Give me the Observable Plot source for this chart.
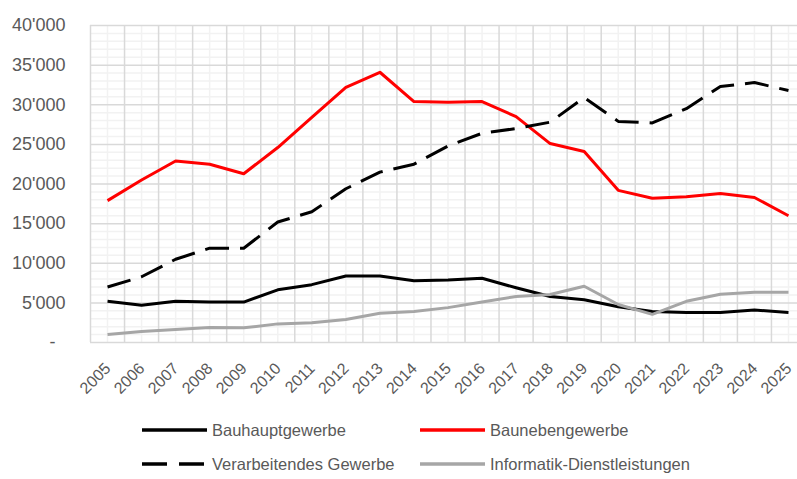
<!DOCTYPE html>
<html>
<head>
<meta charset="utf-8">
<script src="https://cdn.jsdelivr.net/npm/d3@7"></script>
<script src="https://cdn.jsdelivr.net/npm/@observablehq/plot@0.6"></script>
<style>
  html, body { margin: 0; padding: 0; background: #fff; }
  #wrap { position: relative; width: 797px; height: 479px; overflow: hidden; font-family: "Liberation Sans", Arial, sans-serif; }
  #chart svg { display: block; }
  .leg { position: absolute; display: flex; align-items: center; font-size: 16.5px; color: #595959; white-space: nowrap; }
  .leg svg { margin-right: 5px; }
</style>
</head>
<body>
<div id="wrap">
  <div id="chart"></div>
  <div id="legend"></div>
</div>
<script>
const years = [2005,2006,2007,2008,2009,2010,2011,2012,2013,2014,2015,2016,2017,2018,2019,2020,2021,2022,2023,2024,2025];
const bauhauptgewerbe = [5200,4700,5200,5100,5100,6650,7300,8400,8400,7800,7900,8100,6900,5800,5400,4500,3900,3800,3780,4100,3800];
const baunebengewerbe = [17900,20500,22900,22500,21300,24600,28400,32200,34100,30400,30300,30400,28500,25100,24100,19200,18200,18400,18800,18300,16000];
const verarbeitendesGewerbe = [7000,8300,10500,11900,11900,15200,16500,19400,21500,22500,24800,26400,27000,27800,30900,27900,27700,29500,32300,32800,31800];
const informatikDienstleistungen = [1000,1400,1650,1900,1850,2350,2500,2900,3700,3900,4400,5100,5800,6050,7100,4800,3550,5200,6100,6350,6350];
const yTicks = [0,5000,10000,15000,20000,25000,30000,35000,40000];

const seriesNames = ["Bauhauptgewerbe","Baunebengewerbe","Verarbeitendes Gewerbe","Informatik-Dienstleistungen"];
const seriesValues = [bauhauptgewerbe, baunebengewerbe, verarbeitendesGewerbe, informatikDienstleistungen];
const seriesStyle = [
  {stroke: "#000000", dash: null},
  {stroke: "#FF0000", dash: null},
  {stroke: "#000000", dash: "24,11"},
  {stroke: "#A6A6A6", dash: null}
];

const fmt = v => v === 0 ? "-\u00a0\u00a0" : d3.format(",")(v).replace(/,/g, "'");

const minorY = d3.range(0, 40001, 1000).filter(v => v % 5000 !== 0);
const bounds = d3.range(2004.5, 2026, 1);

const lineMarks = seriesNames.map((name, i) => {
  const data = years.map((y, j) => ({year: y, value: seriesValues[i][j]}));
  return Plot.line(data, {x: "year", y: "value", stroke: seriesStyle[i].stroke, strokeWidth: 3, strokeDasharray: seriesStyle[i].dash, strokeLinejoin: "round", strokeLinecap: "butt"});
});

const chart = Plot.plot({
  width: 797,
  height: 400,
  marginLeft: 90,
  marginRight: 0,
  marginTop: 25,
  marginBottom: 58,
  style: {fontFamily: "'Liberation Sans', Arial, sans-serif", background: "#fff"},
  x: {domain: [2004.5, 2025.5], range: [90, 805], axis: null},
  y: {domain: [0, 40000], axis: null},
  marks: [
    Plot.ruleY(minorY, {stroke: "#F2F2F2", strokeWidth: 1.5, x1: 2004.5, x2: 2025.5}),
    Plot.ruleX(years, {stroke: "#F2F2F2", strokeWidth: 1.5, y1: 0, y2: 40000}),
    Plot.ruleY(yTicks, {stroke: "#D9D9D9", strokeWidth: 1.5, x1: 2004.5, x2: 2025.5}),
    Plot.ruleX(bounds, {stroke: "#D9D9D9", strokeWidth: 1.5, y1: 0, y2: 40000}),
    ...lineMarks,
    Plot.text(yTicks, {y: d => d, text: fmt, frameAnchor: "left", dx: -25, textAnchor: "end", fontSize: 18, fill: "#595959"}),
    Plot.text(years, {x: d => d, text: d => String(d), frameAnchor: "bottom", rotate: -45, textAnchor: "end", lineAnchor: "bottom", dx: 4, dy: 27, fontSize: 16, fill: "#595959"})
  ]
});
document.getElementById("chart").appendChild(chart);

// legend
const legendPos = [
  {left: 142, top: 430},
  {left: 420, top: 430},
  {left: 142, top: 464},
  {left: 420, top: 464}
];
const legend = document.getElementById("legend");
seriesNames.forEach((name, i) => {
  const div = document.createElement("div");
  div.className = "leg";
  div.style.left = legendPos[i].left + "px";
  div.style.top = (legendPos[i].top - 11) + "px";
  div.style.height = "22px";
  const s = seriesStyle[i];
  div.innerHTML = `<svg width="65" height="10"><line x1="0" y1="5" x2="65" y2="5" stroke="${s.stroke}" stroke-width="3.5" ${s.dash ? `stroke-dasharray="25,12"` : ""}/></svg><span>${name}</span>`;
  legend.appendChild(div);
});
</script>
</body>
</html>
